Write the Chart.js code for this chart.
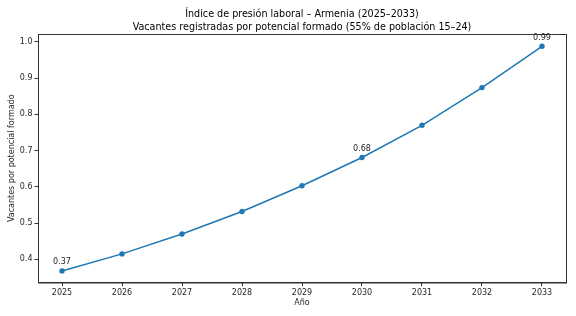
<!DOCTYPE html>
<html>
<head>
<meta charset="utf-8">
<script src="https://cdn.jsdelivr.net/npm/chart.js@4/dist/chart.umd.min.js"></script>
<style>
  html, body { margin: 0; padding: 0; background: #fff; }
  #wrap { width: 576px; height: 316px; position: relative; }
</style>
</head>
<body>
<div id="wrap"><canvas id="chart"></canvas></div>
<script>
// datos
const years = [2025, 2026, 2027, 2028, 2029, 2030, 2031, 2032, 2033];
const pressure = [0.368, 0.415, 0.470, 0.532, 0.603, 0.681, 0.770, 0.874, 0.988];
const yTicks = [0.4, 0.5, 0.6, 0.7, 0.8, 0.9, 1.0];
const annotated = [2025, 2030, 2033];

const titleLines = [
  'Índice de presión laboral – Armenia (2025–2033)',
  'Vacantes registradas por potencial formado (55% de población 15–24)'
];

const FONT = 'DejaVu Sans, sans-serif';
const BLUE = '#1f77b4';
const INK = '#262626';

// títulos, marco completo y etiquetas de valores
const framePlugin = {
  id: 'frame',
  afterDraw(chart) {
    const { ctx, chartArea: a, scales } = chart;
    ctx.save();
    ctx.strokeStyle = '#333';
    ctx.lineWidth = 1;
    ctx.strokeRect(a.left + 0.5, a.top + 0.5, a.right - a.left, a.bottom - a.top);

    const cx = (a.left + a.right) / 2;
    ctx.fillStyle = '#000';
    ctx.font = '9.6px ' + FONT;
    ctx.textAlign = 'center';
    ctx.textBaseline = 'middle';
    ctx.fillText(titleLines[0], cx, 14.5);
    ctx.fillText(titleLines[1], cx, 27);

    ctx.fillStyle = INK;
    ctx.font = '8px ' + FONT;
    ctx.textBaseline = 'bottom';
    years.forEach((yr, i) => {
      if (!annotated.includes(yr)) return;
      const x = scales.x.getPixelForValue(yr);
      const y = scales.y.getPixelForValue(pressure[i]);
      ctx.fillText(pressure[i].toFixed(2), x, y - 4.5);
    });
    ctx.restore();
  }
};

new Chart(document.getElementById('chart'), {
  type: 'line',
  data: {
    datasets: [{
      data: years.map((y, i) => ({ x: y, y: pressure[i] })),
      borderColor: BLUE,
      backgroundColor: BLUE,
      borderWidth: 1.5,
      pointRadius: 2.7,
      pointBackgroundColor: BLUE,
      pointBorderWidth: 0,
      tension: 0
    }]
  },
  options: {
    responsive: true,
    maintainAspectRatio: false,
    animation: false,
    layout: { padding: { top: 34, left: 0, right: 10, bottom: 0 } },
    plugins: {
      legend: { display: false },
      tooltip: { enabled: false },
      title: { display: false }
    },
    scales: {
      x: {
        type: 'linear',
        min: 2024.6,
        max: 2033.4,
        afterBuildTicks: s => { s.ticks = years.map(v => ({ value: v })); },
        afterFit: s => { s.height = 33.5; },
        ticks: {
          color: INK,
          font: { family: FONT, size: 8 },
          padding: 2,
          maxRotation: 0,
          callback: v => String(v)
        },
        grid: { drawOnChartArea: false, tickLength: 3.5, color: '#333' },
        border: { color: '#333' },
        title: {
          display: true,
          text: 'Año',
          color: INK,
          font: { family: FONT, size: 8 },
          padding: { top: 0, bottom: 8 }
        }
      },
      y: {
        min: 0.336,
        max: 1.022,
        afterBuildTicks: s => { s.ticks = yTicks.map(v => ({ value: v })); },
        afterFit: s => { s.width = 38; },
        ticks: {
          color: INK,
          font: { family: FONT, size: 8 },
          padding: 2,
          callback: v => v.toFixed(1)
        },
        grid: { drawOnChartArea: false, tickLength: 3.5, color: '#333' },
        border: { color: '#333' },
        title: {
          display: true,
          text: 'Vacantes por potencial formado',
          color: INK,
          font: { family: FONT, size: 8 },
          padding: { top: 7, bottom: 0 }
        }
      }
    }
  },
  plugins: [framePlugin]
});
</script>
</body>
</html>
